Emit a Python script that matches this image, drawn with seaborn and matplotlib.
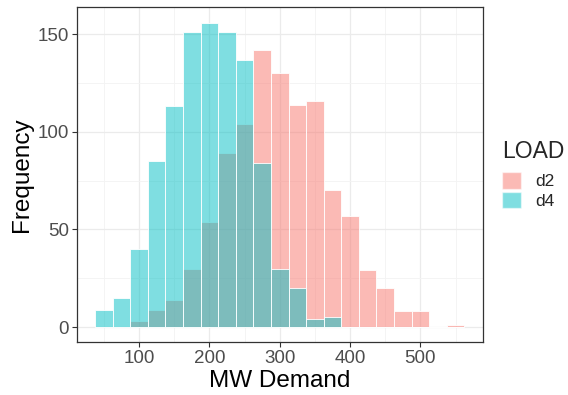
import numpy as np
import pandas as pd
import matplotlib
matplotlib.use("Agg")
import matplotlib.pyplot as plt
from matplotlib.patches import Patch
from matplotlib.ticker import MultipleLocator
import seaborn as sns

# Bin centres (MW) and frequency counts
bin_centers = [50, 75, 100, 125, 150, 175, 200, 225, 250, 275, 300, 325, 350,
               375, 400, 425, 450, 475, 500, 525, 550]
d2_counts = [0, 0, 3, 9, 14, 30, 54, 89, 104, 142, 130, 114, 116,
             70, 57, 29, 20, 8, 8, 0, 1]
d4_counts = [9, 15, 40, 85, 113, 151, 156, 151, 137, 84, 30, 20, 4,
             5, 0, 0, 0, 0, 0, 0, 0]
loads = ["d2", "d4"]
colors = {"d2": "#F8766D", "d4": "#00BFC4"}

df = pd.concat([
    pd.DataFrame({"MW": bin_centers, "count": d2_counts, "LOAD": "d2"}),
    pd.DataFrame({"MW": bin_centers, "count": d4_counts, "LOAD": "d4"}),
], ignore_index=True)

sns.set_theme(style="white")
plt.rcParams["font.family"] = ["Liberation Sans", "DejaVu Sans"]

fig = plt.figure(figsize=(5.68, 3.95), dpi=100)
ax = fig.add_axes([0.135, 0.1334, 0.715, 0.8481])

for load in loads:
    sub = df[df["LOAD"] == load]
    sns.histplot(data=sub, x="MW", weights="count", binwidth=25,
                 binrange=(37.5, 562.5), color=colors[load], alpha=0.5,
                 edgecolor="white", linewidth=0.6, ax=ax, zorder=3)

ax.set_xlim(11.25, 588.75)
ax.set_ylim(-7.8, 163.8)
ax.xaxis.set_major_locator(MultipleLocator(100))
ax.xaxis.set_minor_locator(MultipleLocator(50))
ax.yaxis.set_major_locator(MultipleLocator(50))
ax.yaxis.set_minor_locator(MultipleLocator(25))
ax.set_xticks([100, 200, 300, 400, 500])
ax.grid(which="major", color="#EBEBEB", linewidth=0.9, zorder=0)
ax.grid(which="minor", color="#F3F3F3", linewidth=0.6, zorder=0)
ax.set_axisbelow(True)
for s in ax.spines.values():
    s.set_color("#333333")
    s.set_linewidth(0.9)
ax.tick_params(which="major", direction="out", length=3.5, width=0.8,
               color="#333333", labelsize=13.5, labelcolor="#4D4D4D", pad=2,
               bottom=True, left=True)
ax.tick_params(which="minor", length=0)
ax.set_xlabel("MW Demand", fontsize=17.5, color="black", labelpad=2)
ax.set_ylabel("Frequency", fontsize=17.5, color="black", labelpad=3)

handles = [Patch(facecolor=colors[l], alpha=0.5, edgecolor="white", label=l)
           for l in loads]
leg = fig.legend(handles=handles, title="LOAD", loc="upper left",
                 bbox_to_anchor=(0.884, 0.645), frameon=False, fontsize=12.5,
                 title_fontsize=16.5, handlelength=1.1, handleheight=1.1,
                 handletextpad=0.8, labelspacing=0.12, borderpad=0,
                 borderaxespad=0, alignment="left")
leg._legend_box.sep = 6.5

fig.savefig("out.png", dpi=100)
